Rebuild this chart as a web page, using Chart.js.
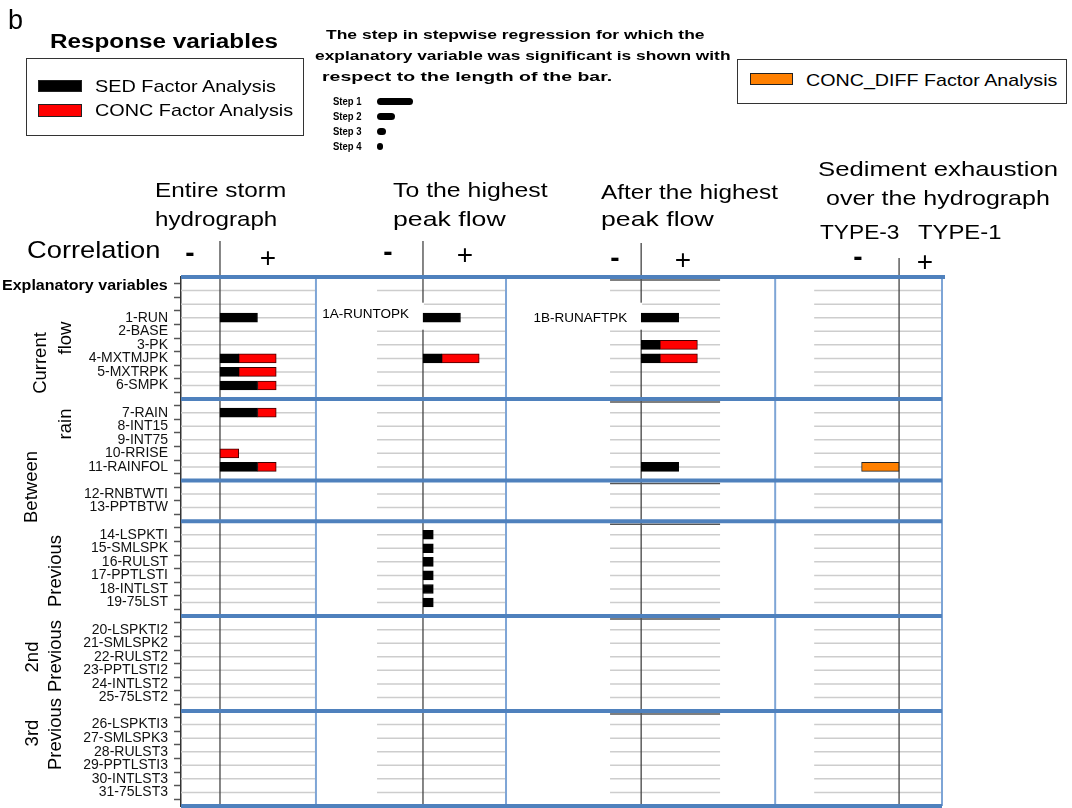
<!DOCTYPE html>
<html>
<head>
<meta charset="utf-8">
<script src="https://cdn.jsdelivr.net/npm/chart.js@4.4.1/dist/chart.umd.min.js"></script>
<style>
  body { margin: 0; background: #fff; }
  #wrap { position: relative; width: 1072px; height: 808px; overflow: hidden;
          font-family: 'Liberation Sans', Arial, Helvetica, sans-serif; color: #000; }
  #wrap canvas { position: absolute; left: 0; top: 0; }
  .t { position: absolute; white-space: nowrap; line-height: 1; transform-origin: left center; transform: translateY(-50%); }
  .r { position: absolute; white-space: nowrap; line-height: 1; transform-origin: right center; transform: translateY(-50%); }
  .c { position: absolute; white-space: nowrap; line-height: 1; transform: translate(-50%, -50%); }
  .v { position: absolute; white-space: nowrap; line-height: 1; font-size: 18.5px; transform: translate(-50%, -50%) rotate(-90deg); }
  .b { font-weight: bold; }
  .box { position: absolute; border: 1px solid #333; background: #fff; }
  .sw { position: absolute; box-sizing: border-box; border: 1px solid #222; }
  .step { position: absolute; height: 7px; border-radius: 4px; background: #000; }
</style>
</head>
<body>
<div id="wrap">
  <canvas id="chart" width="1072" height="808"></canvas>

  <div class="t" style="left:8px;top:20px;font-size:27px">b</div>
  <div class="t b" style="left:50px;top:41px;font-size:20px" data-w="228">Response variables</div>
  <div class="box" style="left:26px;top:58px;width:276px;height:76px"></div>
  <div class="sw" style="left:38px;top:80px;width:44px;height:12px;background:#000"></div>
  <div class="t" style="left:95px;top:86px;font-size:17px" data-w="181">SED Factor Analysis</div>
  <div class="sw" style="left:38px;top:104px;width:44px;height:13px;background:#ff0000"></div>
  <div class="t" style="left:95px;top:110px;font-size:17px" data-w="198">CONC Factor Analysis</div>

  <div class="t b" style="left:326px;top:35px;font-size:13.5px" data-w="379">The step in stepwise regression for which the</div>
  <div class="t b" style="left:315px;top:56px;font-size:13.5px" data-w="415">explanatory variable was significant is shown with</div>
  <div class="t b" style="left:322px;top:77px;font-size:13.5px" data-w="290">respect to the length of the bar.</div>
  <div class="t b" style="left:333px;top:101px;font-size:10.5px" data-w="29">Step 1</div>
  <div class="t b" style="left:333px;top:116px;font-size:10.5px" data-w="29">Step 2</div>
  <div class="t b" style="left:333px;top:131px;font-size:10.5px" data-w="29">Step 3</div>
  <div class="t b" style="left:333px;top:146px;font-size:10.5px" data-w="29">Step 4</div>
  <div class="step" style="left:377px;top:98px;width:36px"></div>
  <div class="step" style="left:377px;top:113px;width:18px"></div>
  <div class="step" style="left:377px;top:128px;width:9px"></div>
  <div class="step" style="left:377px;top:143px;width:6px"></div>

  <div class="box" style="left:737px;top:59px;width:328px;height:43px"></div>
  <div class="sw" style="left:750px;top:73px;width:43px;height:12px;background:#ff8000"></div>
  <div class="t" style="left:806px;top:80px;font-size:17px" data-w="251">CONC_DIFF Factor Analysis</div>

  <div class="t" style="left:155px;top:189px;font-size:21px" data-w="131">Entire storm</div>
  <div class="t" style="left:155px;top:218px;font-size:21px" data-w="122">hydrograph</div>
  <div class="t" style="left:393px;top:189px;font-size:21px" data-w="155">To the highest</div>
  <div class="t" style="left:393px;top:218px;font-size:21px" data-w="113">peak flow</div>
  <div class="t" style="left:601px;top:191px;font-size:21px" data-w="177">After the highest</div>
  <div class="t" style="left:601px;top:218px;font-size:21px" data-w="113">peak flow</div>
  <div class="t" style="left:818px;top:168px;font-size:21px" data-w="240">Sediment exhaustion</div>
  <div class="t" style="left:826px;top:197px;font-size:21px" data-w="224">over the hydrograph</div>
  <div class="t" style="left:820px;top:231px;font-size:21px" data-w="80">TYPE-3</div>
  <div class="t" style="left:918px;top:231px;font-size:21px" data-w="84">TYPE-1</div>

  <div class="t" style="left:27px;top:250px;font-size:24px" data-w="133">Correlation</div>
  <div class="c b" style="left:190px;top:253px;font-size:28px">-</div>
  <div class="c" style="left:268px;top:258px;font-size:28px">+</div>
  <div class="c b" style="left:388px;top:252px;font-size:28px">-</div>
  <div class="c" style="left:465px;top:255px;font-size:28px">+</div>
  <div class="c b" style="left:615px;top:258px;font-size:28px">-</div>
  <div class="c" style="left:683px;top:260px;font-size:28px">+</div>
  <div class="c b" style="left:858px;top:257px;font-size:28px">-</div>
  <div class="c" style="left:925px;top:262px;font-size:28px">+</div>

  <div class="r b" style="right:904px;top:285px;font-size:14px" data-w="166">Explanatory variables</div>

  <div class="v" style="left:40px;top:363px">Current</div>
  <div class="v" style="left:65px;top:338px">flow</div>
  <div class="v" style="left:65px;top:424px">rain</div>
  <div class="v" style="left:31px;top:487px">Between</div>
  <div class="v" style="left:55px;top:571px">Previous</div>
  <div class="v" style="left:32px;top:657px">2nd</div>
  <div class="v" style="left:55px;top:656px">Previous</div>
  <div class="v" style="left:32px;top:733px">3rd</div>
  <div class="v" style="left:55px;top:734px">Previous</div>
</div>

<script>
// explanatory variables, by group (top to bottom)
const currentFlow = ['1-RUN', '2-BASE', '3-PK', '4-MXTMJPK', '5-MXTRPK', '6-SMPK'];
const betweenRain = ['7-RAIN', '8-INT15', '9-INT75', '10-RRISE', '11-RAINFOL'];
const betweenStorms = ['12-RNBTWTI', '13-PPTBTW'];
const previousStorm = ['14-LSPKTI', '15-SMLSPK', '16-RULST', '17-PPTLSTI', '18-INTLST', '19-75LST'];
const previous2 = ['20-LSPKTI2', '21-SMLSPK2', '22-RULST2', '23-PPTLSTI2', '24-INTLST2', '25-75LST2'];
const previous3 = ['26-LSPKTI3', '27-SMLSPK3', '28-RULST3', '29-PPTLSTI3', '30-INTLST3', '31-75LST3'];

// bar lengths (longer bar = earlier step), SED and CONC stacked
const entireVars = ['1-RUN', '4-MXTMJPK', '5-MXTRPK', '6-SMPK', '7-RAIN', '10-RRISE', '11-RAINFOL'];
const entireSED  = [2, 1, 1, 2, 2, 0, 2];
const entireCONC = [0, 2, 2, 1, 1, 1, 1];

const toPeakVars = ['1-RUN', '4-MXTMJPK', '14-LSPKTI', '15-SMLSPK', '16-RULST', '17-PPTLSTI', '18-INTLST', '19-75LST'];
const toPeakSED  = [2, 1, 0.55, 0.55, 0.55, 0.55, 0.55, 0.55];
const toPeakCONC = [0, 2, 0, 0, 0, 0, 0, 0];

const afterPeakVars = ['1-RUN', '3-PK', '4-MXTMJPK', '11-RAINFOL'];
const afterPeakSED  = [2, 1, 1, 2];
const afterPeakCONC = [0, 2, 2, 0];

// sediment exhaustion: negative = TYPE-3, positive = TYPE-1
const exhaustVars = ['11-RAINFOL'];
const exhaustDIFF = [-2];

// build the row list: a separator row between groups, two empty rows at the top
const groups = [currentFlow, betweenRain, betweenStorms, previousStorm, previous2, previous3];
const rows = [];
const sepRows = [];
groups.forEach((g, i) => {
    sepRows.push(rows.length);
    rows.push('');
    if (i === 0) rows.push('', '');
    rows.push(...g);
});
sepRows.push(rows.length);
rows.push('');

function toData(vars, vals) {
    return rows.map(r => {
        const k = vars.indexOf(r);
        return (k < 0 || !vals[k]) ? null : vals[k];
    });
}

// panel placement on a shared frame axis (bar-length units)
const frame = {
    total: 40.6,
    zeros: [2.08, 12.91, 24.55, 38.31],
    walls: [7.2, 17.34, 31.7, 40.6],
    gridSpans: [[0, 7.2], [10.46, 17.3], [22.89, 28.76], [33.78, 40.6]],
    zeroTops: [241, 241, 243, 258]
};

const panelLabels = [
    { panel: 1, text: '1A-RUNTOPK', row: '1-RUN', dy: -3 },
    { panel: 2, text: '1B-RUNAFTPK', row: '1-RUN', dy: 1 }
];

const framePlugin = {
    id: 'frame',
    beforeDatasetsDraw(chart) {
        const { ctx, chartArea: a, scales } = chart;
        const fx = scales.x, y = scales.y;
        const px = v => fx.getPixelForValue(v);
        const line = (x1, y1, x2, y2) => { ctx.beginPath(); ctx.moveTo(x1, y1); ctx.lineTo(x2, y2); ctx.stroke(); };
        ctx.save();

        // light row lines, only inside each panel's own span
        ctx.strokeStyle = '#cdcdcd';
        ctx.lineWidth = 1.5;
        rows.forEach((r, i) => {
            if (sepRows.includes(i)) return;
            const py = y.getPixelForValue(i);
            frame.gridSpans.forEach(([s, e]) => line(px(s), py, px(e), py));
        });

        // panel walls
        ctx.strokeStyle = '#7ea5d6';
        ctx.lineWidth = 2;
        frame.walls.forEach(w => line(px(w), a.top, px(w), a.bottom));

        // zero lines, running up into the header
        ctx.strokeStyle = '#444';
        ctx.lineWidth = 1.3;
        frame.zeros.forEach((z, i) => line(px(z), frame.zeroTops[i], px(z), a.bottom));

        // dark axis lines of panel 3 under the separators
        ctx.strokeStyle = '#555';
        ctx.lineWidth = 1.5;
        sepRows.forEach(i => {
            const py = y.getPixelForValue(i) + 3;
            line(px(frame.gridSpans[2][0]), py, px(frame.gridSpans[2][1]), py);
        });

        // group separators
        ctx.strokeStyle = '#4f81bd';
        ctx.lineWidth = 4;
        sepRows.forEach(i => {
            const py = y.getPixelForValue(i);
            line(a.left, py, i === 0 ? a.right + 3 : a.right, py);
        });

        // variable-name tags of panels 2 and 3
        ctx.font = '13.5px "Liberation Sans", Arial, sans-serif';
        ctx.textAlign = 'right';
        ctx.textBaseline = 'middle';
        panelLabels.forEach(l => {
            const py = y.getPixelForValue(rows.indexOf(l.row));
            const x0 = px(frame.walls[l.panel - 1]) + 1;
            const xz = px(frame.zeros[l.panel]);
            ctx.fillStyle = '#fff';
            ctx.fillRect(x0, py - 15, xz - x0 + 1, 27);
            ctx.fillStyle = '#000';
            ctx.fillText(l.text, xz - 14, py + l.dy);
        });
        ctx.restore();
    }
};

const barStyle = { barThickness: 9, borderWidth: 1, borderSkipped: false, grouped: false };

const datasets = [
    { label: 'SED', data: toData(entireVars, entireSED), xAxisID: 'x1', stack: 'p1', backgroundColor: '#000', borderColor: '#000' },
    { label: 'CONC', data: toData(entireVars, entireCONC), xAxisID: 'x1', stack: 'p1', backgroundColor: '#ff0000', borderColor: '#400000' },
    { label: 'SED', data: toData(toPeakVars, toPeakSED), xAxisID: 'x2', stack: 'p2', backgroundColor: '#000', borderColor: '#000' },
    { label: 'CONC', data: toData(toPeakVars, toPeakCONC), xAxisID: 'x2', stack: 'p2', backgroundColor: '#ff0000', borderColor: '#400000' },
    { label: 'SED', data: toData(afterPeakVars, afterPeakSED), xAxisID: 'x3', stack: 'p3', backgroundColor: '#000', borderColor: '#000' },
    { label: 'CONC', data: toData(afterPeakVars, afterPeakCONC), xAxisID: 'x3', stack: 'p3', backgroundColor: '#ff0000', borderColor: '#400000' },
    { label: 'CONC_DIFF', data: toData(exhaustVars, exhaustDIFF), xAxisID: 'x4', stack: 'p4', backgroundColor: '#ff8000', borderColor: '#222' }
].map(d => Object.assign({}, barStyle, d));

const scales = {
    x: { type: 'linear', axis: 'x', min: 0, max: frame.total, display: false },
    y: {
        type: 'category',
        offset: false,
        afterFit: s => { s.width = 181; s.paddingTop = 0; s.paddingBottom = 0; },
        border: { display: true, color: '#333', width: 1.5 },
        grid: { drawOnChartArea: false, drawTicks: true, tickLength: 7, tickColor: '#555', tickWidth: 1.5 },
        ticks: {
            autoSkip: false,
            padding: 6,
            color: '#111',
            font: { family: '"Liberation Sans", Arial, sans-serif', size: 14 }
        }
    }
};
frame.zeros.forEach((z, i) => {
    scales['x' + (i + 1)] = { type: 'linear', axis: 'x', min: -z, max: frame.total - z, stacked: true, display: false };
});

new Chart(document.getElementById('chart'), {
    type: 'bar',
    data: { labels: rows, datasets: datasets },
    options: {
        indexAxis: 'y',
        responsive: false,
        animation: false,
        layout: { padding: { top: 277, right: 130, bottom: 2, left: 0 } },
        scales: scales,
        plugins: { legend: { display: false }, tooltip: { enabled: true } }
    },
    plugins: [framePlugin]
});

// stretch header text horizontally to the widths seen in the figure
document.querySelectorAll('[data-w]').forEach(el => {
    const k = el.dataset.w / el.offsetWidth;
    const base = el.classList.contains('c') ? 'translate(-50%, -50%)' : 'translateY(-50%)';
    el.style.transform = base + ' scaleX(' + k.toFixed(3) + ')';
});
</script>
</body>
</html>
